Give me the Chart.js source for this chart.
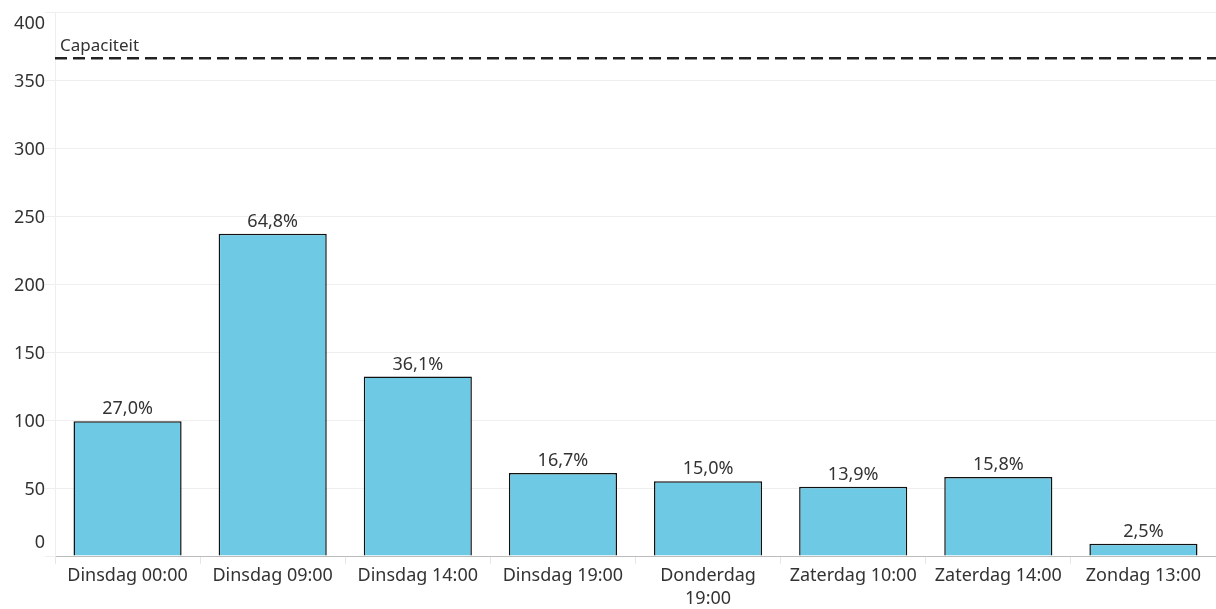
<!DOCTYPE html>
<html lang="nl">
<head>
  <meta charset="UTF-8" />
  <title>Bezetting</title>
  <script src="https://cdn.jsdelivr.net/npm/chart.js"></script>
  <style>
    html, body { margin: 0; padding: 0; background: #fff; }
    #wrap { width: 1216px; height: 609px; position: relative; }
  </style>
</head>
<body>
  <div id="wrap"><canvas id="chart"></canvas></div>
  <script>
    const categories = ['Dinsdag 00:00', 'Dinsdag 09:00', 'Dinsdag 14:00', 'Dinsdag 19:00',
      ['Donderdag', '19:00'], 'Zaterdag 10:00', 'Zaterdag 14:00', 'Zondag 13:00'];
    const values = [99, 237, 132, 61, 55, 51, 58, 9];
    const pctLabels = ['27,0%', '64,8%', '36,1%', '16,7%', '15,0%', '13,9%', '15,8%', '2,5%'];
    const capacity = 366;
    const capacityLabel = 'Capaciteit';
    const yTicks = [0, 50, 100, 150, 200, 250, 300, 350, 400];

    const font = "'Noto Sans', 'Open Sans', sans-serif";

    // percentage labels, dashed capacity line and y labels kept inside the plot
    const overlay = {
      id: 'overlay',
      afterDatasetsDraw(chart) {
        const ctx = chart.ctx;
        const y = chart.scales.y;
        const area = chart.chartArea;
        const meta = chart.getDatasetMeta(0);
        ctx.save();
        ctx.font = '18px ' + font;
        ctx.fillStyle = '#333';
        ctx.textAlign = 'center';
        ctx.textBaseline = 'bottom';
        meta.data.forEach((bar, i) => {
          ctx.fillText(pctLabels[i], bar.x, bar.y - 3);
        });

        ctx.textAlign = 'right';
        ctx.textBaseline = 'middle';
        yTicks.forEach(v => {
          let py = y.getPixelForValue(v) + 2;
          py = Math.max(area.top + 12, Math.min(area.bottom - 13, py));
          ctx.fillText(String(v), area.left - 10, py);
        });

        const cy = y.getPixelForValue(capacity);
        ctx.strokeStyle = '#222';
        ctx.lineWidth = 2.5;
        ctx.setLineDash([12, 6]);
        ctx.beginPath();
        ctx.moveTo(area.left, cy);
        ctx.lineTo(area.right, cy);
        ctx.stroke();
        ctx.setLineDash([]);
        ctx.font = '17px ' + font;
        ctx.textAlign = 'left';
        ctx.textBaseline = 'bottom';
        ctx.fillText(capacityLabel, area.left + 5, cy - 4);
        ctx.restore();
      }
    };

    new Chart(document.getElementById('chart'), {
      type: 'bar',
      data: {
        labels: categories,
        datasets: [{
          data: values,
          backgroundColor: '#6ecae4',
          borderColor: '#111',
          borderWidth: 1.5,
          barPercentage: 0.745,
          categoryPercentage: 1
        }]
      },
      options: {
        responsive: true,
        maintainAspectRatio: false,
        animation: false,
        layout: { padding: { top: 12, right: 0, left: 0, bottom: 0 } },
        plugins: { legend: { display: false }, tooltip: { enabled: false } },
        scales: {
          x: {
            afterFit(scale) { scale.height = 53; },
            grid: { offset: true, drawOnChartArea: false, color: '#e6e6e6', tickLength: 8 },
            border: { color: '#bbb' },
            ticks: { color: '#333', font: { family: font, size: 18, lineHeight: 1.3 }, maxRotation: 0, autoSkip: false, padding: 0 }
          },
          y: {
            min: 0,
            max: 400,
            afterBuildTicks(scale) { scale.ticks = yTicks.map(v => ({ value: v })); },
            afterFit(scale) { scale.width = 55; },
            grid: { color: '#eeeeee', tickLength: 10 },
            border: { display: true, color: '#eeeeee' },
            ticks: { display: false }
          }
        }
      },
      plugins: [overlay]
    });
  </script>
</body>
</html>
